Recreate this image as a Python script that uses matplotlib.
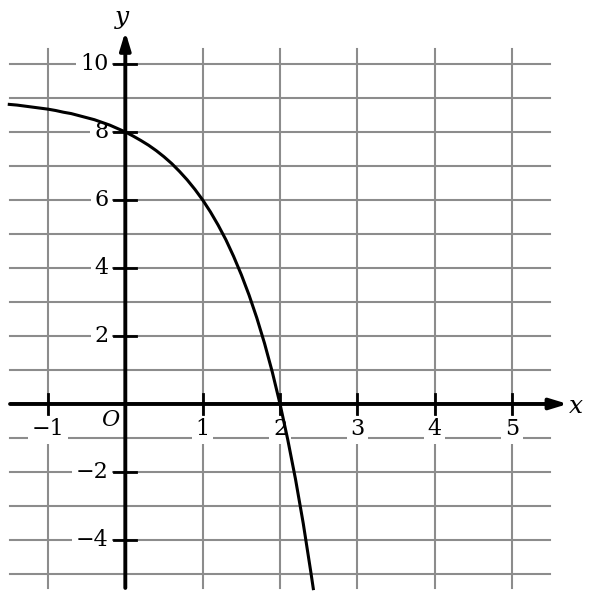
import matplotlib.pyplot as plt

# -------------------------------
# DATA
# -------------------------------
curve_x = [-1.5, -1.4, -1.3, -1.2, -1.1, -1.0, -0.9, -0.8, -0.7, -0.6,
           -0.5, -0.4, -0.3, -0.2, -0.1, 0.0, 0.1, 0.2, 0.3, 0.4,
           0.5, 0.6, 0.7, 0.8, 0.9, 1.0, 1.1, 1.2, 1.3, 1.4,
           1.5, 1.6, 1.7, 1.8, 1.9, 2.0, 2.1, 2.2, 2.3, 2.4, 2.43]
curve_y = [8.81, 8.79, 8.76, 8.73, 8.70, 8.67, 8.63, 8.58, 8.54, 8.48,
           8.42, 8.36, 8.28, 8.20, 8.10, 8.00, 7.88, 7.75, 7.61, 7.45,
           7.27, 7.07, 6.84, 6.59, 6.31, 6.00, 5.65, 5.26, 4.83, 4.34,
           3.80, 3.20, 2.53, 1.78, 0.94, 0.00, -1.05, -2.21, -3.51, -4.97, -5.43]

x_ticks = [-1, 1, 2, 3, 4, 5]
y_ticks = [10, 8, 6, 4, 2, -2, -4]
x_grid = [-1, 0, 1, 2, 3, 4, 5]
y_grid = list(range(-5, 11))

font = "DejaVu Serif"
grid_color = "#8c8c8c"

# -------------------------------
# FIGURE
# -------------------------------
fig = plt.figure(figsize=(5.91, 5.99), dpi=100)
ax = fig.add_axes([0, 0, 1, 1])
ax.set_xlim(-1.62, 6.02)
ax.set_ylim(-5.735, 11.88)
ax.axis("off")

# grid
for gx in x_grid:
    ax.plot([gx, gx], [-5.41, 10.44], color=grid_color, lw=1.5, zorder=1)
for gy in y_grid:
    ax.plot([-1.49, 5.49], [gy, gy], color=grid_color, lw=1.5, zorder=1)

# axes with arrows
arrow = dict(arrowstyle="-|>,head_length=1.05,head_width=0.32",
             mutation_scale=10, lw=2.8, color="black", shrinkA=0, shrinkB=0)
ax.annotate("", xy=(5.72, 0), xytext=(-1.49, 0), arrowprops=arrow, zorder=4)
ax.annotate("", xy=(0, 10.95), xytext=(0, -5.41), arrowprops=arrow, zorder=4)

# tick marks
for t in x_ticks:
    ax.plot([t, t], [-0.3, 0.3], color="black", lw=2, zorder=4)
for t in y_ticks:
    ax.plot([-0.14, 0.14], [t, t], color="black", lw=2, zorder=4)

box = dict(facecolor="white", edgecolor="none", pad=2.5)

# tick labels
for t in x_ticks:
    label = str(t).replace("-", "\u2212")
    ax.text(t, -0.74, label, ha="center", va="center", fontsize=16,
            family=font, bbox=box, zorder=3)
for t in y_ticks:
    label = str(t).replace("-", "\u2212")
    ax.text(-0.22, t, label, ha="right", va="center", fontsize=16,
            family=font, bbox=box, zorder=3)

ax.text(-0.2, -0.47, "O", ha="center", va="center", fontsize=16,
        family=font, style="italic", zorder=3)
ax.text(5.83, -0.06, "x", ha="center", va="center", fontsize=18,
        family=font, style="italic", zorder=3)
ax.text(-0.04, 11.38, "y", ha="center", va="center", fontsize=18,
        family=font, style="italic", zorder=3)

# curve
ax.plot(curve_x, curve_y, color="black", lw=2.2, zorder=5)

plt.savefig("out.png", dpi=100)
plt.close()
